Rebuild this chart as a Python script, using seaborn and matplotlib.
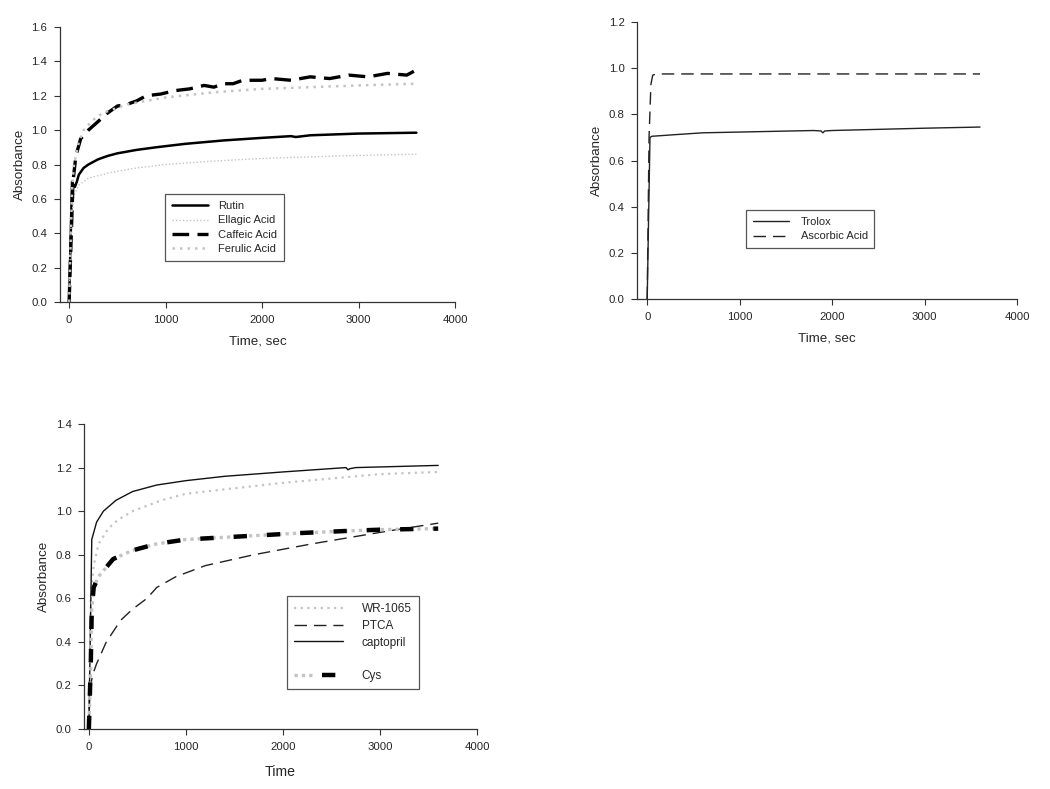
import numpy as np
import pandas as pd
import matplotlib
matplotlib.use("Agg")
import matplotlib.pyplot as plt
from matplotlib.legend_handler import HandlerTuple
from matplotlib.lines import Line2D
import seaborn as sns

# ---- panel 1: polyphenols ----
t_rutin = [0, 30, 45, 60, 80, 100, 150, 200, 300, 400, 500, 700, 900, 1200, 1600, 2000, 2300, 2350, 2500, 3000, 3600]
rutin = [0.0, 0.70, 0.68, 0.67, 0.70, 0.74, 0.78, 0.80, 0.83, 0.85, 0.865, 0.885, 0.90, 0.92, 0.94, 0.955, 0.965, 0.96, 0.97, 0.98, 0.985]
t_ellagic = [0, 20, 50, 100, 200, 400, 700, 1000, 1500, 2000, 2800, 3600]
ellagic = [0.0, 0.45, 0.62, 0.68, 0.72, 0.75, 0.78, 0.80, 0.82, 0.835, 0.85, 0.86]
t_caffeic = [0, 40, 70, 120, 200, 300, 400, 500, 600, 700, 800, 950, 1100, 1250, 1400, 1500, 1600, 1700, 1800, 2000, 2100, 2300, 2500, 2700, 2900, 3100, 3300, 3500, 3600]
caffeic = [0.0, 0.70, 0.85, 0.95, 1.00, 1.05, 1.10, 1.14, 1.15, 1.17, 1.20, 1.21, 1.23, 1.24, 1.26, 1.25, 1.27, 1.27, 1.29, 1.29, 1.30, 1.29, 1.31, 1.30, 1.32, 1.31, 1.33, 1.32, 1.35]
t_ferulic = [0, 30, 50, 100, 150, 250, 350, 600, 1000, 1500, 2000, 2500, 3000, 3600]
ferulic = [0.0, 0.65, 0.80, 0.93, 1.00, 1.06, 1.10, 1.15, 1.19, 1.22, 1.24, 1.25, 1.26, 1.27]

# ---- panel 2: standards ----
t_trolox = [0, 30, 50, 300, 600, 1200, 1800, 1880, 1900, 1920, 2000, 2500, 3000, 3600]
trolox = [0.0, 0.70, 0.705, 0.712, 0.72, 0.725, 0.73, 0.728, 0.72, 0.728, 0.73, 0.735, 0.74, 0.745]
t_ascorbic = [0, 20, 40, 60, 100, 1000, 2000, 3000, 3600]
ascorbic = [0.0, 0.70, 0.93, 0.97, 0.975, 0.975, 0.975, 0.975, 0.975]

# ---- panel 3: thiols ----
t_wr = [0, 20, 50, 100, 200, 300, 450, 750, 1000, 1400, 2000, 2500, 3000, 3600]
wr1065 = [0.0, 0.60, 0.75, 0.85, 0.92, 0.96, 1.00, 1.05, 1.08, 1.10, 1.13, 1.15, 1.17, 1.18]
t_ptca = [0, 10, 40, 80, 180, 330, 450, 600, 700, 900, 1200, 1700, 2300, 2700, 3100, 3600]
ptca = [0.0, 0.18, 0.25, 0.30, 0.40, 0.50, 0.55, 0.60, 0.65, 0.70, 0.75, 0.80, 0.85, 0.88, 0.91, 0.945]
t_capto = [0, 30, 80, 150, 280, 450, 700, 1000, 1400, 2000, 2650, 2670, 2690, 2750, 3600]
captopril = [0.0, 0.87, 0.95, 1.00, 1.05, 1.09, 1.12, 1.14, 1.16, 1.18, 1.20, 1.19, 1.195, 1.20, 1.21]
t_cys = [0, 20, 30, 50, 100, 250, 450, 700, 1000, 1400, 1800, 2200, 2700, 3000, 3600]
cys = [0.0, 0.30, 0.55, 0.65, 0.70, 0.78, 0.82, 0.85, 0.87, 0.88, 0.89, 0.90, 0.91, 0.915, 0.92]

xticks = [0, 1000, 2000, 3000, 4000]

sns.set_theme(style="ticks")
plt.rcParams['font.family'] = ['Liberation Sans', 'DejaVu Sans']

fig = plt.figure(figsize=(10.5, 7.89), dpi=100)
ax1 = fig.add_axes([0.0571, 0.6172, 0.3762, 0.3486])
ax2 = fig.add_axes([0.6067, 0.6210, 0.3619, 0.3511])
ax3 = fig.add_axes([0.0800, 0.0760, 0.3743, 0.3866])

grey = "#c4c4c4"
leg_kw = dict(loc="lower left", fontsize=8, handlelength=3.3, handletextpad=0.9,
              labelspacing=0.4, borderpad=0.6, borderaxespad=0)


def line(ax, x, y, **kw):
    sns.lineplot(x=x, y=y, ax=ax, sort=False, estimator=None, **kw)
    return ax.lines[-1]


# panel 1
h1 = line(ax1, t_rutin, rutin, color="black", lw=1.8, linestyle="-")
h2 = line(ax1, t_ellagic, ellagic, color=grey, lw=1.0, linestyle=(0, (1, 1.5)))
h3 = line(ax1, t_caffeic, caffeic, color="black", lw=2.4, linestyle=(0, (5, 2.5)))
h4 = line(ax1, t_ferulic, ferulic, color=grey, lw=1.8, linestyle=(0, (1, 2)))
ax1.set_ylim(0, 1.6)
ax1.set_yticks(np.arange(0, 1.61, 0.2))
ax1.set_xlim(-95, 4000)
ax1.set_xlabel("Time, sec", fontsize=9.6, labelpad=8)
leg1 = ax1.legend([h1, h2, h3, h4], ["Rutin", "Ellagic Acid", "Caffeic Acid", "Ferulic Acid"],
                  bbox_to_anchor=(0.266, 0.149), **leg_kw)

# panel 2
g1 = line(ax2, t_trolox, trolox, color="#222222", lw=1.0, linestyle="-")
g2 = line(ax2, t_ascorbic, ascorbic, color="#222222", lw=1.0, linestyle=(0, (9, 5)))
ax2.set_ylim(0, 1.2)
ax2.set_yticks(np.arange(0, 1.21, 0.2))
ax2.set_xlim(-110, 4000)
ax2.set_xlabel("Time, sec", fontsize=9.6, labelpad=8)
leg2 = ax2.legend([g1, g2], ["Trolox", "Ascorbic Acid"],
                  bbox_to_anchor=(0.287, 0.184), **{**leg_kw, "handletextpad": 1.0})

# panel 3
k1 = line(ax3, t_wr, wr1065, color=grey, lw=1.6, linestyle=(0, (1, 2)))
k2 = line(ax3, t_ptca, ptca, color="#222222", lw=1.0, linestyle=(0, (9, 5)))
k3 = line(ax3, t_capto, captopril, color="#111111", lw=1.0, linestyle="-")
k4a = line(ax3, t_cys, cys, color=grey, lw=2.4, linestyle=(0, (1, 1.2)))
k4b = line(ax3, t_cys, cys, color="black", lw=3.2, linestyle=(0, (3, 4.5)))
blank = Line2D([], [], color="none")
ax3.set_ylim(0, 1.4)
ax3.set_yticks(np.arange(0, 1.41, 0.2))
ax3.set_xlim(-50, 4000)
ax3.set_xlabel("Time", fontsize=10.2, labelpad=10)
leg3 = ax3.legend([k1, k2, k3, blank, (k4a, k4b)], ["WR-1065", "PTCA", "captopril", "", "Cys"],
                  bbox_to_anchor=(0.517, 0.131),
                  handler_map={tuple: HandlerTuple(ndivide=None)},
                  **{**leg_kw, "fontsize": 8.5, "handlelength": 4.1, "handletextpad": 1.6})

for ax in (ax1, ax2, ax3):
    sns.despine(ax=ax)
    ax.set_xticks(xticks)
    ax.yaxis.set_major_formatter(matplotlib.ticker.FormatStrFormatter("%.1f"))
    ax.tick_params(labelsize=8.2, length=4, width=0.8, color="#333333", pad=5)
    ax.set_ylabel("Absorbance", fontsize=9.6)
    for s in ("left", "bottom"):
        ax.spines[s].set_linewidth(0.9)
        ax.spines[s].set_color("#333333")

for leg in (leg1, leg2, leg3):
    fr = leg.get_frame()
    fr.set_boxstyle("square", pad=0)
    fr.set_edgecolor("#555555")
    fr.set_linewidth(0.9)
    fr.set_alpha(1)

fig.savefig("out.png", dpi=100)
